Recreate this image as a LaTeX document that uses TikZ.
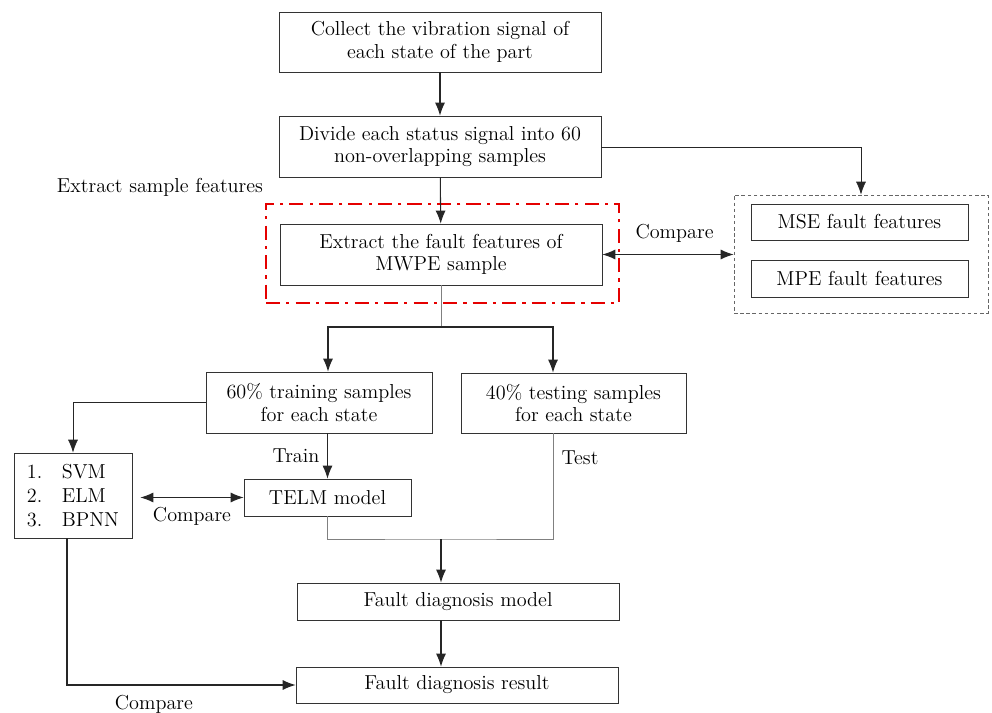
\documentclass[tikz,border=0pt]{standalone}
\usepackage{tikz}
\usetikzlibrary{positioning}
\usetikzlibrary{calc}
\usetikzlibrary{arrows.meta}
\colorlet{box colour}{black!80}
\colorlet{line colour}{black!85}
\colorlet{light line colour}{black!50}
\colorlet{frame colour}{red!90!black}
\tikzset{
    % Plain triangular heads look closest
    >={Latex[length=2.6mm, width=2mm]},
%
    % Boxes
    stage/.style={draw=box colour, rectangle, thin, minimum width=6.44cm},
    group box/.style={draw=black!60, rectangle, thin, dash pattern=on 2pt off 1.5pt},
    frame/.style={draw=frame colour, rectangle, line width=1.6pt,
        dash pattern=on 8pt off 3.5pt on 1.8pt off 3.5pt},
    % Lines
    flow/.style={color=line colour, text=black, semithick, ->},
    feed/.style={color=light line colour, text=black, thin},
%
    % Text is always centred unless told otherwise
    every node/.style={align=center, font=\fontsize{11.5}{12.8}\selectfont},
}

\begin{document}
\begin{tikzpicture}[x=0.02cm, y=-0.02cm]

\useasboundingbox (0,0) rectangle (992,713);

% Main column
\path
    (440,42) node (collect) [stage, minimum height=1.2cm]
        {Collect the vibration signal of\\each state of the part}
    (440,146.5) node (divide) [stage, minimum height=1.22cm]
        {Divide each status signal into 60\\non-overlapping samples}
    (441,254.5) node (extract) [stage, minimum height=1.22cm]
        {Extract the fault features of\\MWPE sample};

\node (focus) [frame, minimum width=7.06cm, minimum height=1.98cm] at (442.5,253.5) {};
\node (features) at (160,187) {Extract sample features};

% Entropies used for comparison
\path
    (861,254) node (group) [group box, minimum width=5.08cm, minimum height=2.36cm] {}
    (859.5,222) node (mse) [stage, minimum width=4.34cm, minimum height=0.72cm]
        {MSE fault features}
    (859.5,278.5) node (mpe) [stage, minimum width=4.34cm, minimum height=0.74cm]
        {MPE fault features};

% Sample split
\path
    (319,402.5) node (train) [stage, minimum width=4.52cm, minimum height=1.22cm]
        {60\% training samples\\for each state}
    (573.5,403) node (test) [stage, minimum width=4.5cm, minimum height=1.2cm]
        {40\% testing samples\\for each state}
    (327.5,497.5) node (telm) [stage, minimum width=3.34cm, minimum height=0.74cm]
        {TELM model}
    (73,495.5) node (models) [stage, align=left, minimum width=2.36cm, minimum height=1.7cm]
        {\makebox[7mm][l]{1.}SVM\\[1pt]\makebox[7mm][l]{2.}ELM\\[1pt]\makebox[7mm][l]{3.}BPNN};

% Diagnosis
\path
    (458,601.5) node (model) [stage, minimum height=0.74cm] {Fault diagnosis model}
    (457,685) node (result) [stage, minimum height=0.72cm] {Fault diagnosis result};

\coordinate (split) at (441,327);
\coordinate (merge) at (441,539);
\coordinate (testout) at ([xshift=-0.41cm]test.south);

\draw [flow] (collect) -- (divide);
\draw [flow] (divide) -- (extract);
\draw [flow, thin] (divide.east |- 0,147) -| (group.north);
\draw [flow, <->] (extract.east) -- (group.west |- extract.east)
    node [pos=0.55, above=3pt] (cmp1) {Compare};

\draw [feed] (extract.south) -- (split);
\draw [flow] (split) -| ([xshift=0.18cm]train.north);
\draw [flow] (split) -| ([xshift=-0.41cm]test.north);

\draw [flow, thin] (train.west) -| (models.north);
\draw [flow] (train.south -| telm.north) -- (telm.north)
    node [midway, left=1pt] (trainlabel) {Train};
\draw [flow, <->] (telm.west) -- ([xshift=0.16cm]models.east |- telm.west)
    node [midway, below=2pt] (cmp2) {Compare};

\draw [feed] (telm.south) |- (merge) -| (testout);
\node (testlabel) at (580,458) {Test};

\draw [flow] (merge) -- (merge |- model.north);
\draw [flow] (merge |- model.south) -- (merge |- result.north);
\draw [flow] ([xshift=-0.12cm]models.south) |- (result.west)
    node [pos=0.69, below=2pt] (cmp3) {Compare};

\end{tikzpicture}
\end{document}
